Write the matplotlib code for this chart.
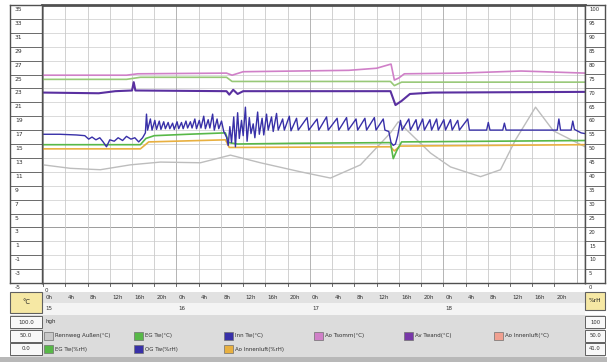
import matplotlib
matplotlib.use('Agg')
import matplotlib.pyplot as plt
from matplotlib.patches import Rectangle
from matplotlib.transforms import blended_transform_factory

W, H, DPI = 607, 362, 100

# hours counted from the 15th, 0h
outdoor_h = [0, 4.9, 10.3, 15.7, 21.1, 28.3, 33.7, 39.1, 46.3, 51.7, 57.1, 62.5, 63.9,
             69.7, 73.3, 78.7, 82.3, 85.0, 88.6, 91.8, 97.5]
outdoor_t = [12.0, 11.5, 11.3, 12.0, 12.4, 12.3, 13.4, 12.3, 11.0, 10.1, 12.0, 16.6, 18.2,
             13.7, 11.7, 10.3, 11.3, 15.6, 20.3, 16.9, 14.6]

sun_h = [0, 15, 17, 33, 34, 36, 55, 60, 62.6, 63.2, 64, 65, 75, 86, 90, 97.5]
sun_t = [24.9, 24.9, 25.1, 25.2, 24.9, 25.4, 25.6, 25.9, 26.5, 24.2, 24.5, 25.1, 25.2, 25.5, 25.4, 25.2]

lgreen_h = [0, 15, 17.5, 33, 34, 62.5, 63.2, 64.5, 97.5]
lgreen_t = [24.3, 24.3, 24.6, 24.6, 24.0, 24.0, 23.4, 23.9, 23.9]

wall_h = [0, 10, 13, 16, 16.3, 16.6, 33, 33.5, 34.2, 35, 36, 62.5, 63.4, 64.5, 66, 70, 97.5]
wall_t = [22.4, 22.3, 22.6, 22.7, 23.9, 22.7, 22.6, 22.1, 22.8, 22.2, 22.6, 22.6, 20.6, 21.2, 22.2, 22.4, 22.5]

inner_h = [0, 3, 6, 7.5, 8.2, 8.8, 9.5, 10.2, 10.8, 11.4, 12.0, 12.8, 13.5, 14.3, 15.0, 15.8, 16.5,
           17.2, 17.9, 18.4,
           18.6, 18.8, 19.3, 19.6, 20.1, 20.4, 20.9, 21.2, 21.7, 22.0, 22.5, 22.8, 23.3, 23.6,
           24.1, 24.4, 24.9, 25.2, 25.7, 26.0, 26.5, 26.8, 27.3, 27.6, 28.1, 28.4, 28.9, 29.2,
           29.7, 30.0, 30.5, 30.8, 31.3, 31.6, 32.1, 32.5,
           33.0, 33.3, 33.6, 33.9, 34.3, 34.6, 35.0, 35.3, 35.7, 36.0, 36.4, 36.7, 37.1, 37.4,
           37.8, 38.1, 38.6, 38.9, 39.4, 39.7,
           40.2, 40.5, 41.1, 41.4, 42.0, 42.3, 43.1, 43.4, 44.3, 44.6, 45.6, 45.9,
           47.5, 47.8, 49.3, 49.6, 51.0, 51.3, 52.9, 53.2, 54.6, 54.9, 56.3, 56.6, 57.9, 58.2,
           59.6, 59.9, 61.2, 61.5,
           62.2, 62.6, 63.0, 63.4, 63.8, 64.3, 64.6,
           65.8, 66.1, 67.1, 67.4, 68.3, 68.6, 69.6, 69.9, 70.8, 71.1, 72.1, 72.4, 73.3, 73.6,
           74.6, 74.9, 76.4, 76.7,
           79.8, 80.1, 80.4, 82.7, 83.0, 83.3, 92.5, 92.8, 93.1, 95.0, 95.3, 95.6, 96.8, 97.5]
inner_t = [16.4, 16.4, 16.3, 16.2, 15.7, 16.0, 15.6, 15.9, 15.3, 14.6, 15.6, 15.4, 15.9, 15.5, 16.1, 15.7, 15.9,
           15.3, 15.9, 16.6,
           19.3, 17.0, 18.6, 17.0, 18.4, 17.1, 18.3, 17.1, 18.2, 17.2, 18.1, 17.2, 18.0, 17.1,
           18.2, 17.2, 18.1, 17.2, 18.3, 17.3, 18.2, 17.3, 18.6, 17.2, 18.4, 17.3, 19.0, 17.2,
           18.5, 17.3, 19.3, 17.0, 18.6, 17.2, 18.3, 16.8,
           16.0, 14.8, 17.5, 15.2, 18.9, 14.6, 19.5, 15.8, 18.4, 16.2, 20.3, 15.4, 18.8, 16.5,
           17.9, 15.9, 19.6, 16.4, 18.7, 16.3,
           19.3, 17.0, 18.9, 16.8, 19.4, 17.0, 18.6, 17.0, 19.0, 16.9, 18.7, 17.0,
           18.8, 17.0, 18.6, 17.0, 18.9, 17.0, 18.7, 17.0, 18.8, 17.0, 18.6, 17.0, 18.7, 17.0,
           18.8, 17.0, 18.6, 17.0,
           16.8, 15.2, 14.8, 15.0, 16.2, 18.4, 17.0,
           18.6, 17.0, 18.5, 17.0, 18.6, 17.0, 18.5, 17.0, 18.6, 17.0, 18.5, 17.0, 18.5, 17.0,
           18.4, 17.0, 18.6, 17.0,
           17.0, 18.1, 17.0, 17.0, 18.0, 17.0, 17.0, 18.6, 17.0, 17.0, 18.3, 17.1, 16.6, 16.5]

eg_h = [0, 17.5, 18.5, 20, 26, 32.8, 33.4, 35, 45, 62.5, 63.0, 63.6, 64.5, 97.5]
eg_t = [14.9, 14.9, 15.8, 16.2, 16.4, 16.6, 15.2, 15.0, 15.1, 15.2, 12.9, 14.0, 15.3, 15.5]

air_h = [0, 17.5, 19, 32.8, 33.5, 62.5, 63.2, 64.2, 97.5]
air_t = [14.3, 14.3, 15.3, 15.6, 14.5, 14.6, 14.0, 14.7, 14.9]

days = ['15', '16', '17', '18']
hour_labels = ['0h', '4h', '8h', '12h', '16h', '20h']

legend_row1 = [('Rennweg Außen(°C)', '#c8c8c8'), ('EG Tw(°C)', '#58b848'), ('Inn Tw(°C)', '#3830a8'),
               ('Ao Tsomm(°C)', '#d080c8'), ('Av Twand(°C)', '#7838a8'), ('Ao Innenluft(°C)', '#f0a090')]
legend_row2 = [('EG Tw(%rH)', '#58b848'), ('OG Tw(%rH)', '#3830a8'), ('Ao Innenluft(%rH)', '#e8b040')]


def fx(px):
    return px / W


def fy(py):
    return 1 - py / H


fig = plt.figure(figsize=(W / DPI, H / DPI), dpi=DPI)
fig.patch.set_facecolor('white')

top, bot = 5, 283
ax = fig.add_axes([fx(42), fy(bot), fx(585) - fx(42), fy(top) - fy(bot)])
ax.set_xlim(-0.2, 97.5)
ax.set_ylim(-5, 35)

# grid
for t in range(-5, 36, 2):
    c = '#8c8c8c' if t in (3, 5) else '#d4d4d4'
    ax.axhline(t, color=c, lw=0.6, zorder=0)
for h in range(0, 97, 4):
    c = '#a8a8a8' if h % 24 == 0 else '#cacaca'
    ax.axvline(h, color=c, lw=0.6, zorder=0)

ax.plot(outdoor_h, outdoor_t, color='#bdbdbd', lw=1.0)
ax.plot(air_h, air_t, color='#e8b040', lw=1.2)
ax.plot(eg_h, eg_t, color='#58b848', lw=1.2)
ax.plot(inner_h, inner_t, color='#3830a8', lw=1.0)
ax.plot(lgreen_h, lgreen_t, color='#98c878', lw=1.2)
ax.plot(wall_h, wall_t, color='#5a30a0', lw=1.5)
ax.plot(sun_h, sun_t, color='#d080c8', lw=1.2)

ax.set_xticks([])
ax.set_yticks([])
for s in ax.spines.values():
    s.set_color('#505050')
    s.set_linewidth(1.0)
ax.spines['top'].set_linewidth(2.0)

# left temperature strip
lax = fig.add_axes([fx(10), fy(bot), fx(42) - fx(10), fy(top) - fy(bot)], sharey=ax)
lax.set_xlim(0, 1)
for t in range(-5, 36, 2):
    lax.axhline(t, color='#6a6a6a', lw=0.7)
    lax.text(0.15, t - 0.3, str(t), ha='left', va='top', fontsize=4.3, color='#303030', clip_on=False)
lax.set_xticks([])
lax.tick_params(left=False, labelleft=False)
for s in lax.spines.values():
    s.set_color('#505050')
    s.set_linewidth(1.0)

# right humidity strip
rax = fig.add_axes([fx(585), fy(bot), fx(605) - fx(585), fy(top) - fy(bot)])
rax.set_xlim(0, 1)
rax.set_ylim(0, 100)
for r in range(0, 101, 5):
    rax.axhline(r, color='#6a6a6a', lw=0.7)
    rax.text(0.2, r - 0.8, str(r), ha='left', va='top', fontsize=3.8, color='#303030', clip_on=False)
rax.set_xticks([])
rax.set_yticks([])
for s in rax.spines.values():
    s.set_color('#505050')
    s.set_linewidth(1.0)

# bottom panel in pixel units
pan = fig.add_axes([0, 0, 1, fy(bot)], zorder=-1)
pan.set_xlim(0, W)
pan.set_ylim(H, bot)
pan.axis('off')

pan.add_patch(Rectangle((42, 292), 543, 11, facecolor='#e2e2e2', edgecolor='none'))
pan.add_patch(Rectangle((42, 303), 543, 12, facecolor='#f4f4f4', edgecolor='none'))
pan.add_patch(Rectangle((10, 315), 595, 42, facecolor='#dcdcdc', edgecolor='none'))
pan.add_patch(Rectangle((0, 357), W, 5, facecolor='#b8b8b8', edgecolor='none'))

pan.add_patch(Rectangle((10, 292), 32, 21, facecolor='#f6e8a4', edgecolor='#606060', lw=0.8))
pan.text(26, 302.5, '°C', ha='center', va='center', fontsize=4.8, color='#202020')
pan.add_patch(Rectangle((585, 292), 20, 18, facecolor='#f6e8a4', edgecolor='#606060', lw=0.8))
pan.text(595, 301, '%rH', ha='center', va='center', fontsize=4.2, color='#202020')

for i, s in enumerate(['100.0', '50.0', '0.0']):
    y0 = 316 + i * 13.5
    pan.add_patch(Rectangle((10, y0), 32, 12, facecolor='#f8f8f8', edgecolor='#606060', lw=0.7))
    pan.text(26, y0 + 6, s, ha='center', va='center', fontsize=4.0, color='#303030')
for i, s in enumerate(['100', '50.0', '41.0']):
    y0 = 316 + i * 13.5
    pan.add_patch(Rectangle((585, y0), 20, 12, facecolor='#f8f8f8', edgecolor='#606060', lw=0.7))
    pan.text(595, y0 + 6, s, ha='center', va='center', fontsize=3.8, color='#303030')

pan.text(45, 290, '0', ha='left', va='center', fontsize=4.0, color='#303030')
pan.text(45, 322, 'hgh', ha='left', va='center', fontsize=4.0, color='#303030')

# time axis labels follow the data x scale
tr = blended_transform_factory(ax.transData, pan.transData)
for d, day in enumerate(days):
    for k, lab in enumerate(hour_labels):
        h = d * 24 + k * 4
        pan.text(h + 0.4, 297.5, lab, transform=tr, ha='left', va='center', fontsize=4.0, color='#303030')
        pan.plot([h, h], [283, 286], transform=tr, color='#505050', lw=0.6)
    pan.text(d * 24 + 0.4, 309, day, transform=tr, ha='left', va='center', fontsize=4.0, color='#303030')

for row, items, y in ((0, legend_row1, 336), (1, legend_row2, 349)):
    for j, (name, col) in enumerate(items):
        x0 = 44 + j * 90
        pan.add_patch(Rectangle((x0, y - 4), 9, 8, facecolor=col, edgecolor='#707070', lw=0.5))
        pan.text(x0 + 11, y, name, ha='left', va='center', fontsize=4.0, color='#303030')

fig.savefig('out.png', dpi=DPI)
